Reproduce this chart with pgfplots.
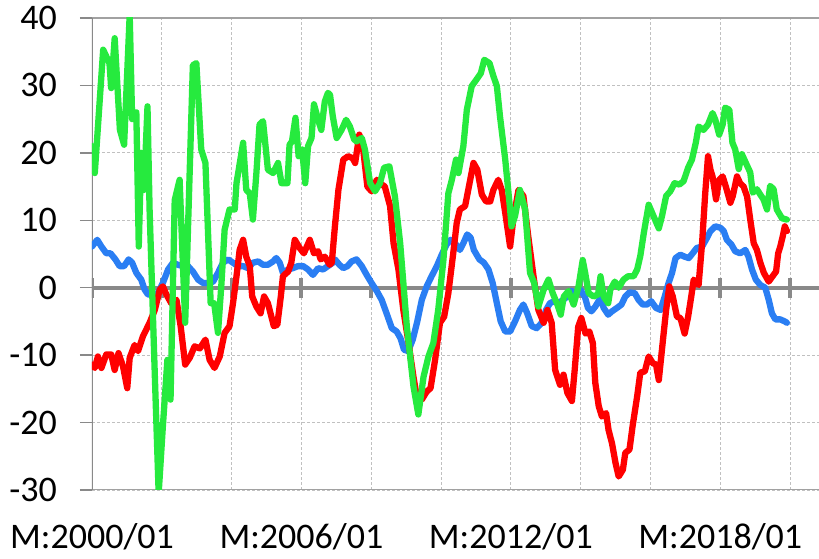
\documentclass[border=0pt]{standalone}
\usepackage{fontspec}
\setmainfont{Carlito}
\usepackage{pgfplots}
\pgfplotsset{compat=1.18}
\definecolor{cgreen}{RGB}{38,234,62}
\definecolor{cred}{RGB}{255,0,0}
\definecolor{cblue}{RGB}{42,126,243}
\definecolor{axgray}{RGB}{137,137,137}
\definecolor{gridgray}{RGB}{192,192,192}
\begin{document}
\begin{tikzpicture}
\begin{axis}[
 scale only axis, width=727pt, height=472pt,
 xmin=0, xmax=20.83, ymin=-30, ymax=40,
 axis line style={draw=none},
 xtick={0,2,...,20},
 xticklabels={M:2000/01,,,M:2006/01,,,M:2012/01,,,M:2018/01,},
 ytick={-30,-20,...,40},
 yticklabels={-30,-20,-10,0,10,20,30,40},
 xtick style={draw=none},
 ytick style={draw=axgray, line width=1.5pt},
 ytick pos=left,
 tick align=outside, major tick length=12pt,
 grid=major, major grid style={gridgray, dash pattern=on 3pt off 2pt, line width=0.9pt},
 tick label style={font=\fontsize{36}{40}\selectfont},
 yticklabel style={anchor=east, inner sep=0pt, xshift=-23pt},
 xticklabel style={anchor=base, inner sep=0pt, yshift=-47pt},
 every axis plot/.append style={line width=6.3pt, line join=round, line cap=round, no markers},
]
\draw[axgray!80, line width=2pt] (rel axis cs:0,1) -- (rel axis cs:1,1);
\draw[axgray!80, line width=2pt] (rel axis cs:0,0) -- (rel axis cs:1,0);
\draw[axgray, line width=2.5pt] (rel axis cs:0,0) -- (rel axis cs:0,1);
\addplot[axgray, line width=4pt, line cap=butt] coordinates {(0,0) (20.83,0)};
\pgfplotsinvokeforeach{0,2,4,6,8,10,12,14,16,18,20}{
  \draw[axgray, line width=4pt] (axis cs:#1,-1.5) -- (axis cs:#1,1.5);
}
% blue
\addplot[cblue] coordinates {
(0,6.1) (0.15,7.1) (0.27,6.1) (0.41,5.1) (0.53,5.1) (0.67,4.2) (0.79,3.2) (0.92,3.2) (1.05,4.2) (1.15,3.7) (1.27,2.2) (1.41,1.2) (1.51,-0.3) (1.6,-1) (1.75,-1) (1.89,-0.8) (2.03,0.7) (2.18,2.7) (2.32,3.7) (2.46,3.4) (2.61,3.2) (2.75,3.2) (2.89,2.4) (3.04,1.2) (3.18,0.7) (3.32,0.7) (3.47,0.9) (3.61,2.2) (3.75,3.7) (3.9,4.2) (4.04,3.7) (4.18,3.2) (4.33,3.2) (4.47,2.9) (4.61,3.7) (4.76,3.9) (4.9,3.4) (5.04,3.4) (5.19,3.9) (5.28,4.4) (5.38,3.7) (5.47,2.2) (5.62,2.7) (5.76,2.9) (5.9,3.2) (6.05,3.2) (6.19,2.7) (6.33,1.9) (6.48,2.9) (6.62,2.7) (6.76,3.2) (6.9,3.7) (6.96,4.2) (7.09,3.4) (7.2,2.9) (7.32,3.2) (7.44,3.9) (7.58,4.2) (7.73,3.2) (7.87,1.9) (8.01,0.7) (8.16,-0.5) (8.3,-1.8) (8.44,-3.8) (8.59,-6) (8.73,-6.5) (8.84,-7.5) (8.94,-9.2) (9.06,-9.4) (9.19,-7.7) (9.32,-5) (9.45,-1.8) (9.59,0.2) (9.73,1.7) (9.88,3.2) (10.02,4.9) (10.16,6.4) (10.27,7.1) (10.43,6.4) (10.54,5.6) (10.64,6.6) (10.75,7.9) (10.85,7.4) (10.94,5.6) (11.1,4.2) (11.23,3.7) (11.36,2.7) (11.48,0.7) (11.6,-2.3) (11.71,-5) (11.84,-6.5) (11.98,-6.5) (12.12,-5) (12.26,-3.3) (12.36,-2.5) (12.47,-3.8) (12.6,-5.7) (12.74,-6) (12.89,-5.2) (13.01,-3.3) (13.12,-2.3) (13.24,-2) (13.36,-2.3) (13.5,-1.8) (13.62,-1.3) (13.74,-0.5) (13.85,-0.8) (13.99,-0.3) (14.12,-1.3) (14.21,-3) (14.31,-3.5) (14.42,-2.8) (14.57,-1.5) (14.66,-3) (14.79,-4) (14.9,-3.5) (15.04,-3) (15.17,-2.5) (15.28,-1.3) (15.4,-0.7) (15.55,-0.8) (15.66,-1.8) (15.78,-2.5) (15.9,-2.5) (16.02,-2) (16.16,-3) (16.29,-3.3) (16.41,-1.3) (16.52,0.7) (16.62,2.2) (16.72,4.4) (16.86,4.9) (16.98,4.6) (17.1,4.4) (17.21,5.1) (17.33,5.9) (17.48,6.1) (17.59,7.1) (17.72,8.4) (17.86,9.1) (18.0,8.9) (18.1,8.4) (18.19,7.1) (18.32,6.4) (18.43,5.4) (18.57,5.1) (18.72,5.6) (18.81,4.6) (18.91,2.7) (19.02,1.2) (19.15,0.4) (19.29,0) (19.39,-1.8) (19.48,-3.8) (19.58,-4.7) (19.72,-4.7) (19.85,-5) (19.91,-5.2)
};
% red
\addplot[cred] coordinates {
(0,-11.4) (0.08,-11.9) (0.17,-10.2) (0.27,-11.9) (0.41,-9.9) (0.55,-9.9) (0.65,-12.2) (0.76,-9.7) (0.89,-11.7) (1.01,-14.9) (1.08,-10.4) (1.22,-8.5) (1.32,-9.4) (1.46,-7.2) (1.65,-5.2) (1.8,-3.3) (1.94,-0.3) (2.03,0.2) (2.13,-1) (2.27,-2.3) (2.42,-1.8) (2.54,-5.7) (2.67,-11.4) (2.8,-10.4) (2.94,-8.7) (3.09,-9) (3.25,-7.7) (3.37,-10.7) (3.51,-11.9) (3.66,-10.2) (3.8,-6.7) (3.94,-5.7) (4.04,-2.3) (4.14,1.7) (4.23,5.6) (4.33,7.1) (4.42,4.6) (4.52,3.2) (4.59,-1.3) (4.71,-2.8) (4.83,-3.8) (4.93,-1.3) (5.04,-2.3) (5.14,-4.3) (5.21,-5.7) (5.31,-5.5) (5.41,-1.3) (5.47,1.7) (5.62,2.4) (5.71,3.7) (5.81,7.1) (5.95,5.9) (6.07,5.1) (6.24,7.1) (6.36,5.1) (6.48,5.4) (6.55,4.2) (6.67,4.6) (6.81,3.4) (6.87,3.7) (6.96,9.1) (7.06,14.5) (7.2,19) (7.34,19.5) (7.47,19.2) (7.54,18.5) (7.66,22.7) (7.77,20.5) (7.89,15) (8.01,14.3) (8.16,16) (8.25,15.5) (8.39,15) (8.54,12.1) (8.64,6.6) (8.78,2.7) (8.92,-3.3) (9.07,-8.2) (9.21,-13.2) (9.32,-16.6) (9.45,-16.6) (9.59,-15.4) (9.7,-14.9) (9.83,-10.7) (9.97,-5.2) (10.09,-4.3) (10.21,-0.8) (10.35,5.1) (10.45,9.6) (10.54,11.6) (10.69,12.1) (10.78,14.5) (10.93,18.5) (11.04,17.5) (11.17,13.8) (11.29,12.8) (11.41,12.8) (11.5,14.5) (11.64,16) (11.74,14.5) (11.84,11.1) (11.98,6.1) (12.07,10.1) (12.22,14.5) (12.36,13.6) (12.5,7.6) (12.65,1.7) (12.79,-3.3) (12.94,-5.2) (13.05,-3.3) (13.17,-5.2) (13.27,-12.2) (13.41,-14.4) (13.51,-12.9) (13.62,-15.6) (13.75,-16.8) (13.83,-12.2) (13.93,-5.8) (14.02,-4.5) (14.14,-6.8) (14.25,-6.5) (14.35,-8.2) (14.42,-14.1) (14.52,-17.6) (14.61,-19.1) (14.73,-18.6) (14.8,-21.1) (14.9,-23.1) (15.0,-26) (15.09,-28) (15.21,-27) (15.28,-24.5) (15.4,-24) (15.49,-20.5) (15.62,-16.1) (15.71,-12.6) (15.84,-12.4) (15.95,-10.2) (16.07,-11.2) (16.16,-11.4) (16.24,-13.7) (16.35,-8.2) (16.45,-3.3) (16.54,0.2) (16.64,-1.3) (16.76,-4.3) (16.86,-4.5) (16.98,-6.8) (17.08,-4.3) (17.17,-1.3) (17.24,1.2) (17.38,0.4) (17.48,6.6) (17.57,14) (17.65,19.5) (17.72,17.5) (17.78,16.5) (17.88,13.1) (17.97,16) (18.07,16.5) (18.16,15) (18.29,12.6) (18.36,13.6) (18.48,16.5) (18.57,15.5) (18.67,15) (18.77,13.5) (18.86,10.1) (18.96,6.6) (19.05,5.6) (19.15,3.7) (19.25,2.2) (19.39,0.9) (19.5,1.7) (19.6,2.4) (19.66,5.1) (19.72,6.1) (19.79,7.6) (19.85,9.1) (19.91,8.4)
};
% green
\addplot[cgreen] coordinates {
(0,21) (0.08,17) (0.32,35.3) (0.5,33.3) (0.55,29.6) (0.65,37) (0.8,23.4) (0.92,21.2) (1.08,40.5) (1.15,25) (1.27,26) (1.34,6.1) (1.41,20) (1.49,14.5) (1.59,26.9) (1.65,11.6) (1.8,-13) (1.91,-30.5) (2.03,-20.6) (2.16,-10.7) (2.25,-16.6) (2.37,13) (2.51,16) (2.67,-5.2) (2.89,33) (2.99,33.3) (3.13,20.5) (3.25,18.5) (3.4,-2.3) (3.5,-2.3) (3.61,-6.7) (3.71,0.7) (3.8,8.6) (3.94,11.6) (4.09,11.6) (4.14,15.5) (4.33,21.5) (4.42,14.5) (4.52,14) (4.61,10.1) (4.71,17) (4.8,24.2) (4.9,24.7) (5.04,17.5) (5.19,17) (5.33,18.5) (5.43,15.5) (5.6,15.5) (5.66,21.2) (5.73,21.7) (5.83,25.2) (5.92,19.5) (6.02,20.5) (6.11,15.5) (6.19,21) (6.29,22.2) (6.36,27.2) (6.48,24.9) (6.57,23.4) (6.67,27.6) (6.76,28.9) (6.82,28.6) (6.9,25.4) (7.01,22.2) (7.15,23.4) (7.28,24.9) (7.39,23.9) (7.51,22) (7.58,21.7) (7.73,22.2) (7.82,20.5) (7.97,15.5) (8.11,14.3) (8.25,15.5) (8.37,17.8) (8.52,18) (8.68,13.5) (8.83,6.6) (9.02,-5.7) (9.21,-14.6) (9.35,-18.8) (9.5,-13.2) (9.64,-10.2) (9.78,-8.2) (9.92,-3.3) (10.07,4.2) (10.21,14) (10.31,16) (10.43,19) (10.5,17) (10.64,21) (10.74,26.4) (10.88,29.9) (11.02,30.9) (11.14,31.8) (11.24,33.8) (11.39,33.3) (11.5,31.4) (11.6,29.9) (11.69,25.4) (11.84,19) (11.98,11.6) (12.02,9.1) (12.12,10.6) (12.26,14.5) (12.41,11.6) (12.55,2.2) (12.67,0.7) (12.79,-2.8) (12.94,-0.3) (13.08,1.2) (13.2,-0.8) (13.32,-2.3) (13.43,-4) (13.52,-1.3) (13.65,-0.5) (13.8,-2.5) (13.94,0.2) (14.06,4.1) (14.13,2.2) (14.23,-0.8) (14.37,-1.3) (14.5,-1.0) (14.57,1.7) (14.66,-1.3) (14.79,-2.3) (14.85,-0.3) (14.98,0.9) (15.09,0) (15.23,1.2) (15.36,1.7) (15.52,1.7) (15.62,2.7) (15.71,4.7) (15.81,8.1) (15.95,12.3) (16.09,10.6) (16.24,8.8) (16.33,10.6) (16.45,13.6) (16.57,14.3) (16.69,15.5) (16.83,15.3) (16.95,15.8) (17.08,17.8) (17.19,19) (17.3,21.5) (17.38,23.9) (17.52,23.4) (17.65,24.2) (17.78,25.9) (17.86,24.9) (17.97,22.7) (18.07,24.2) (18.14,26.7) (18.26,26.4) (18.35,21.5) (18.43,20.5) (18.53,17.6) (18.62,19.8) (18.77,18.1) (18.86,17.1) (18.93,14.1) (19.05,14.6) (19.15,13.8) (19.24,13.1) (19.34,11.6) (19.43,15.1) (19.53,14.6) (19.62,11.6) (19.77,10.3) (19.91,10.1)
};
\end{axis}
\pgfresetboundingbox
\useasboundingbox ([shift={(-92pt,-69pt)}]current axis.south west) rectangle ([shift={(0pt,18pt)}]current axis.north east);
\end{tikzpicture}
\end{document}
